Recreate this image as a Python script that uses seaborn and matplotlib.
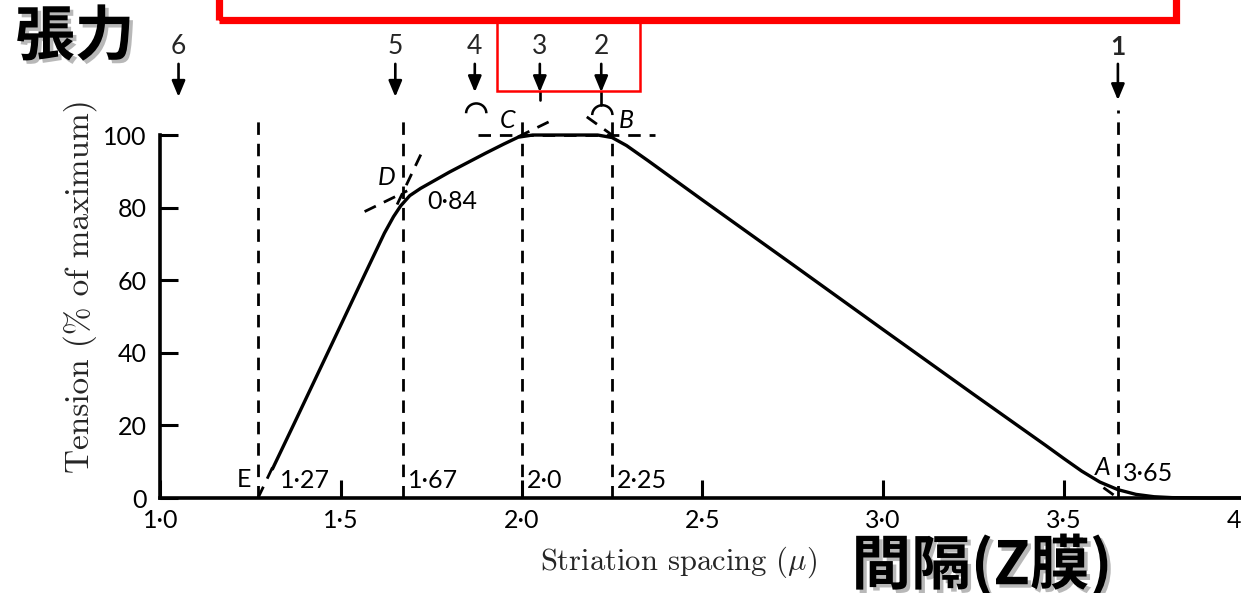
import matplotlib
matplotlib.use("Agg")
import matplotlib.pyplot as plt
import matplotlib.patheffects as pe
from matplotlib.patches import Arc, Rectangle
import pandas as pd
import seaborn as sns

# Length-tension curve: tension (% of maximum) against striation spacing (µm)
spacing = [1.31, 1.37, 1.47, 1.565, 1.62, 1.645, 1.665, 1.69, 1.72, 1.80, 1.90,
           1.95, 1.99, 2.03, 2.21, 2.25, 2.29, 2.35, 2.50, 2.75, 3.00, 3.25,
           3.45, 3.50, 3.55, 3.60, 3.65, 3.70, 3.75, 3.80, 3.90, 4.00]
tension = [8.0, 20.5, 41.5, 61.5, 73.0, 77.5, 80.5, 83.3, 85.3, 89.8, 95.0,
           97.5, 99.4, 100.0, 100.0, 99.3, 97.1, 92.9, 82.1, 64.3, 46.4, 28.6,
           14.5, 10.9, 7.4, 4.4, 2.3, 1.0, 0.35, 0.1, 0.0, 0.0]

# Characteristic points of the curve
point_names = ["E", "D", "C", "B", "A"]
point_spacing = [1.27, 1.67, 2.0, 2.25, 3.65]
point_tension = [0.0, 84.0, 100.0, 100.0, 0.0]
spacing_labels = ["1·27", "1·67", "2·0", "2·25", "3·65"]
d_label = "0·84"

# Numbered arrows marking the filament-overlap stages
stage_names = ["1", "2", "3", "4", "5", "6"]
stage_spacing = [3.65, 2.22, 2.05, 1.87, 1.65, 1.05]

x_ticks = [1.0, 1.5, 2.0, 2.5, 3.0, 3.5, 4.0]
x_tick_labels = ["1·0", "1·5", "2·0", "2·5", "3·0", "3·5", "4·0"]
y_ticks = [0, 20, 40, 60, 80, 100]

sns.set_style("ticks")
plt.rcParams["font.family"] = ["Lato", "DejaVu Sans"]
plt.rcParams["mathtext.fontset"] = "cm"
plt.rcParams["axes.unicode_minus"] = False

fig = plt.figure(figsize=(12.41, 5.93), dpi=100)
ax = fig.add_axes([0.1293, 0.1602, 0.8734, 0.6121])

curve = pd.DataFrame({"spacing": spacing, "tension": tension})
sns.lineplot(data=curve, x="spacing", y="tension", ax=ax, color="black",
             linewidth=2.4, estimator=None, sort=False, clip_on=False)

ax.set_xlim(1.0, 4.0)
ax.set_ylim(0, 100)
sns.despine(ax=ax)
for side in ("left", "bottom"):
    ax.spines[side].set_linewidth(2.6)
    ax.spines[side].set_color("black")
ax.spines["left"].set_bounds(0, 100)

ax.set_xticks(x_ticks)
ax.set_xticklabels(x_tick_labels)
ax.set_yticks(y_ticks)
ax.tick_params(axis="both", direction="in", length=13, width=2.2,
               colors="black", labelsize=18)
ax.tick_params(axis="x", pad=8)
ax.tick_params(axis="y", pad=10)

ax.set_xlabel(r"Striation spacing ($\mu$)", fontfamily="cmr10", fontsize=22)
ax.xaxis.set_label_coords(0.478, -0.128)
ax.set_ylabel("Tension (% of maximum)", fontfamily="cmr10", fontsize=24)
ax.yaxis.set_label_coords(-0.059, 0.585)

dash = (0, (4.5, 3.2))
dkw = dict(color="black", linewidth=2.0, linestyle=dash, clip_on=False)

# vertical guides at the characteristic spacings
for xs in point_spacing:
    top = 107 if xs == point_spacing[-1] else 105.5
    ax.plot([xs, xs], [0, top], **dkw)

# plateau line
ax.plot([1.88, 2.37], [100, 100], **dkw)

# construction lines through the characteristic points
xE, xD, xC, xB, xA = point_spacing
yE, yD, yC, yB, yA = point_tension
s_ed = (yD - yE) / (xD - xE)
s_dc = (yC - yD) / (xC - xD)
s_ba = (yA - yB) / (xA - xB)
for x0, x1 in [(1.565, 1.683), (1.99, 2.09)]:
    ax.plot([x0, x1], [yD + s_dc * (x0 - xD), yD + s_dc * (x1 - xD)], **dkw)
for x0, x1 in [(1.27, 1.31), (1.655, 1.725)]:
    ax.plot([x0, x1], [yE + s_ed * (x0 - xE), yE + s_ed * (x1 - xE)], **dkw)
for x0, x1 in [(2.18, 2.255), (3.61, 3.65)]:
    ax.plot([x0, x1], [yB + s_ba * (x0 - xB), yB + s_ba * (x1 - xB)], **dkw)

# point names and spacing values
tkw = dict(fontsize=18, color="black", va="center", clip_on=False)
name_pos = {"E": (1.232, 5.2), "D": (1.625, 88.4), "C": (1.962, 104.1),
            "B": (2.29, 104.1), "A": (3.609, 8.3)}
for name in point_names:
    px, py = name_pos[name]
    ax.text(px, py, name, ha="center",
            style="normal" if name == "E" else "italic", **tkw)
label_dx = [0.061, 0.016, 0.015, 0.014, 0.014]
label_y = [4.7, 4.7, 4.7, 4.7, 6.8]
for xs, lab, dx, ly in zip(point_spacing, spacing_labels, label_dx, label_y):
    ax.text(xs + dx, ly, lab, ha="left", **tkw)
ax.text(1.738, 81.8, d_label, ha="left", **tkw)

# numbered arrows above the plot
tips = {"1": 109.6, "2": 111.8, "3": 111.8, "4": 111.8, "5": 110.5, "6": 110.5}
for name, xs in zip(stage_names, stage_spacing):
    ax.annotate("", xy=(xs, tips[name]), xytext=(xs, 119.6),
                arrowprops=dict(arrowstyle="-|>,head_length=0.6,head_width=0.25",
                                color="black", lw=1.9, mutation_scale=16,
                                shrinkA=0, shrinkB=0),
                annotation_clip=False)
    ax.text(xs, 124.3, name, ha="center", va="center", fontsize=19,
            fontweight="bold" if name == "1" else "normal", clip_on=False)
ax.plot([stage_spacing[2]] * 2, [111.8, 109.6], color="black", lw=1.9, clip_on=False)
ax.plot([stage_spacing[1]] * 2, [111.8, 108.3], color="black", lw=1.9, clip_on=False)
for xs, yc in [(1.874, 106.0), (2.223, 105.5)]:
    ax.add_patch(Arc((xs, yc), width=0.056, height=5.4, theta1=0, theta2=180,
                     color="black", lw=1.8, clip_on=False))

# red highlight frames
fig.add_artist(Rectangle((219 / 1241, 1 - 19.5 / 593), (1175.5 - 219) / 1241, 0.3,
                         transform=fig.transFigure, fill=False,
                         edgecolor="#ff0000", lw=5.2, clip_on=False))
fig.add_artist(Rectangle((497 / 1241, 1 - 90.7 / 593), (640 - 497) / 1241,
                         (90.7 - 22) / 593, transform=fig.transFigure, fill=False,
                         edgecolor="#ff0000", lw=1.8, clip_on=False))

# Japanese axis captions
shadow = [pe.SimplePatchShadow(offset=(2.5, -2.5), shadow_rgbFace="0.45", alpha=0.5),
          pe.Normal()]
jkw = dict(family=["Noto Sans CJK JP", "DejaVu Sans"], fontweight="bold",
           color="black", path_effects=shadow)
fig.text(15 / 1241, 1 - 38 / 593, "張力", ha="left", va="center", fontsize=43, **jkw)
fig.text(982 / 1241, 1 - 566 / 593, "間隔(Z膜)", ha="center", va="center",
         fontsize=43, **jkw)

fig.savefig("out.png", dpi=100)
